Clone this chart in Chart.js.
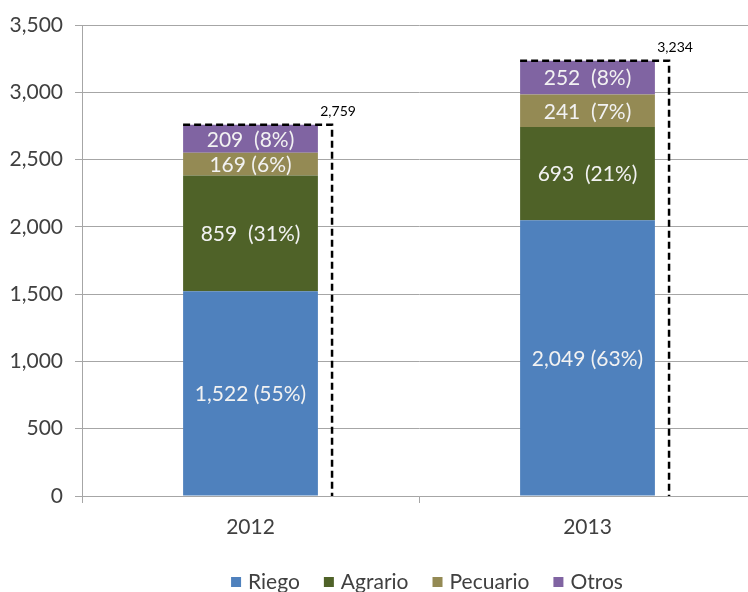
<!DOCTYPE html>
<html>
<head>
<meta charset="utf-8">
<script src="https://cdn.jsdelivr.net/npm/chart.js@4.4.1/dist/chart.umd.min.js"></script>
<style>
  html, body { margin: 0; padding: 0; background: #fff; overflow: hidden; }
  #wrap { width: 748px; height: 592px; position: relative; overflow: hidden; }
  canvas { display: block; }
</style>
</head>
<body>
<div id="wrap"><canvas id="c" width="756" height="592"></canvas></div>
<script>
const categories = ['2012', '2013'];
const riego = [1522, 2049];
const agrario = [859, 693];
const pecuario = [169, 241];
const otros = [209, 252];
const totals = [2759, 3234];
const riegoLabels = ['1,522 (55%)', '2,049 (63%)'];
const agrarioLabels = ['859  (31%)', '693  (21%)'];
const pecuarioLabels = ['169 (6%)', '241  (7%)'];
const otrosLabels = ['209  (8%)', '252  (8%)'];
const totalLabels = ['2,759', '3,234'];
const yTicks = [0, 500, 1000, 1500, 2000, 2500, 3000, 3500];

const FONT = 'Lato, "Open Sans", sans-serif';
const TEXT = '#404040';
const GRID = '#A6A6A6';

const seriesLabels = [riegoLabels, agrarioLabels, pecuarioLabels, otrosLabels];

const segLabelPlugin = {
  id: 'segLabels',
  afterDatasetsDraw(chart) {
    const ctx = chart.ctx;
    ctx.save();
    ctx.font = '21px ' + FONT;
    ctx.fillStyle = '#F2F2F2';
    ctx.textAlign = 'center';
    ctx.textBaseline = 'middle';
    chart.data.datasets.forEach((ds, di) => {
      const meta = chart.getDatasetMeta(di);
      meta.data.forEach((el, i) => {
        const p = el.getProps(['x', 'y', 'base'], true);
        ctx.fillText(seriesLabels[di][i], p.x, (p.y + p.base) / 2 + 1);
      });
    });
    ctx.restore();
  }
};

const totalPlugin = {
  id: 'totals',
  afterDatasetsDraw(chart) {
    const ctx = chart.ctx;
    const yScale = chart.scales.y;
    const meta = chart.getDatasetMeta(chart.data.datasets.length - 1);
    const y0 = yScale.getPixelForValue(0);
    ctx.save();
    meta.data.forEach((el, i) => {
      const p = el.getProps(['x', 'width'], true);
      const left = p.x - p.width / 2;
      const right = p.x + p.width / 2 + p.width * 0.105;
      const yTop = yScale.getPixelForValue(totals[i]);
      ctx.beginPath();
      ctx.setLineDash([7, 4]);
      ctx.lineWidth = 2.5;
      ctx.strokeStyle = '#000';
      ctx.moveTo(left, yTop);
      ctx.lineTo(right, yTop);
      ctx.lineTo(right, y0);
      ctx.stroke();
      ctx.setLineDash([]);
      ctx.font = '14px ' + FONT;
      ctx.fillStyle = '#000';
      ctx.textAlign = 'center';
      ctx.textBaseline = 'alphabetic';
      ctx.fillText(totalLabels[i], right + 6, yTop - 9);
    });
    ctx.restore();
  }
};

const legendPlugin = {
  id: 'customLegend',
  afterDraw(chart) {
    const ctx = chart.ctx;
    ctx.save();
    ctx.font = '21px ' + FONT;
    ctx.textBaseline = 'middle';
    ctx.textAlign = 'left';
    const box = 10, gapText = 7, gapItem = 24;
    const items = chart.data.datasets.map(ds => ({ label: ds.label, color: ds.backgroundColor, w: ctx.measureText(ds.label).width }));
    let total = 0;
    items.forEach((it, i) => { total += box + gapText + it.w + (i < items.length - 1 ? gapItem : 0); });
    let x = 427 - total / 2;
    const yc = 581;
    items.forEach(it => {
      ctx.fillStyle = it.color;
      ctx.fillRect(x, yc - box / 2 + 1, box, box);
      x += box + gapText;
      ctx.fillStyle = TEXT;
      ctx.fillText(it.label, x, yc + 1);
      x += it.w + gapItem;
    });
    ctx.restore();
  }
};

new Chart(document.getElementById('c'), {
  type: 'bar',
  data: {
    labels: categories,
    datasets: [
      { label: 'Riego', data: riego, backgroundColor: '#4F81BD' },
      { label: 'Agrario', data: agrario, backgroundColor: '#4F6228' },
      { label: 'Pecuario', data: pecuario, backgroundColor: '#948A54' },
      { label: 'Otros', data: otros, backgroundColor: '#8064A2' }
    ]
  },
  options: {
    responsive: false,
    animation: false,
    devicePixelRatio: 1,
    layout: { padding: { top: 25, right: 0, bottom: 0, left: 0 } },
    datasets: { bar: { barPercentage: 0.4, categoryPercentage: 1.0, borderWidth: 0 } },
    plugins: { legend: { display: false }, tooltip: { enabled: false } },
    scales: {
      x: {
        stacked: true,
        offset: true,
        afterFit: s => { s.height = 96; },
        grid: { display: true, drawOnChartArea: false, drawTicks: true, tickLength: 7, color: GRID, offset: true },
        border: { display: true, color: GRID, width: 1 },
        ticks: { color: TEXT, font: { family: FONT, size: 21 }, padding: 12 }
      },
      y: {
        stacked: true,
        min: 0,
        max: 3500,
        afterFit: s => { s.width = 82; },
        afterBuildTicks: s => { s.ticks = yTicks.map(v => ({ value: v })); },
        grid: { color: GRID, tickLength: 7, drawTicks: true },
        border: { display: true, color: GRID, width: 1 },
        ticks: {
          color: TEXT,
          font: { family: FONT, size: 21 },
          padding: 12,
          callback: v => Number(v).toLocaleString('en-US')
        }
      }
    }
  },
  plugins: [segLabelPlugin, totalPlugin, legendPlugin]
});
</script>
</body>
</html>
